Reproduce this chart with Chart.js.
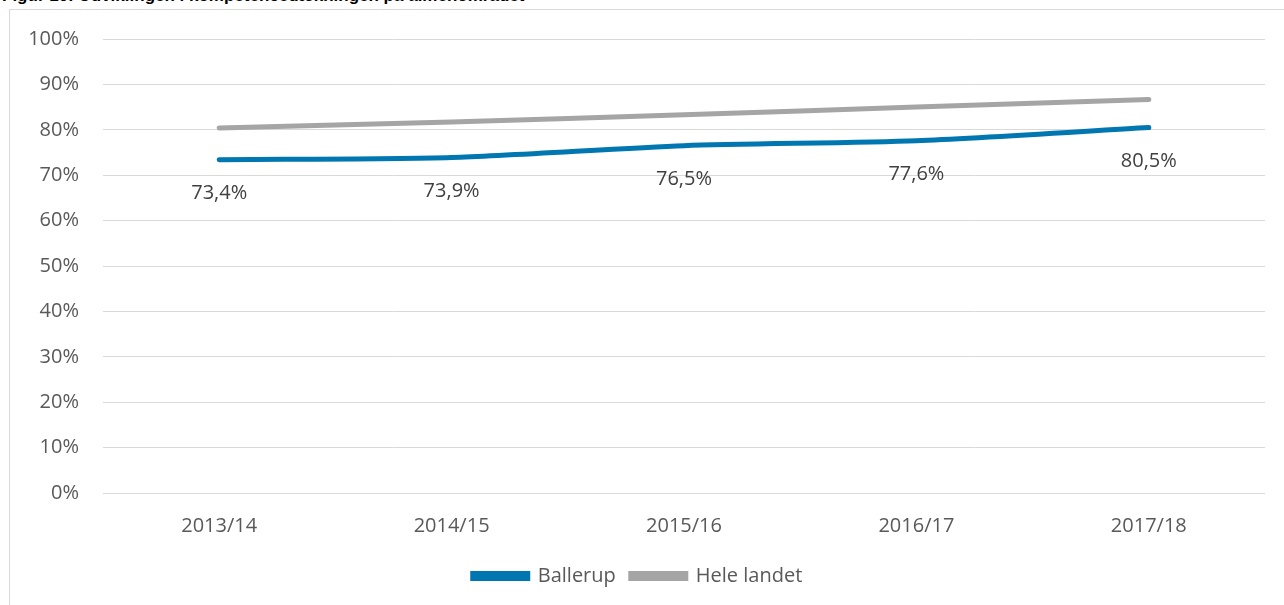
<!DOCTYPE html>
<html>
<head>
<meta charset="utf-8">
<script src="https://cdn.jsdelivr.net/npm/chart.js@4"></script>
<style>
  html, body { margin: 0; padding: 0; background: #fff; overflow: hidden; }
  body { width: 1284px; height: 605px; position: relative; }
  #title {
    position: absolute; left: 2px; top: -14px;
    font: bold 17px "Liberation Sans", Arial, sans-serif; line-height: 20px;
    color: #000; white-space: nowrap;
  }
  #box {
    position: absolute; left: 9px; top: 9px;
    width: 1290px; height: 610px;
    border: 1px solid #d9d9d9; box-sizing: border-box;
  }
  #wrap { position: absolute; left: 0; top: -7px; width: 1275px; height: 594px; }
</style>
</head>
<body>
<div id="title">Figur 10: Udviklingen i kompetencedækningen på almenområdet</div>
<div id="box"><div id="wrap"><canvas id="chart"></canvas></div></div>
<script>
// Skoleår
const years = ['2013/14', '2014/15', '2015/16', '2016/17', '2017/18'];
// Kompetencedækning i procent
const ballerup = [73.4, 73.9, 76.5, 77.6, 80.5];
const heleLandet = [80.4, 81.7, 83.3, 85.0, 86.7];
const yTicks = [0, 10, 20, 30, 40, 50, 60, 70, 80, 90, 100];

const fontFamily = '"Open Sans", "Noto Sans", sans-serif';

// Værdier under Ballerup-linjen
const valueLabels = {
    id: 'valueLabels',
    afterDatasetsDraw(chart) {
        const ctx = chart.ctx;
        const meta = chart.getDatasetMeta(0);
        ctx.save();
        ctx.font = '20px ' + fontFamily;
        ctx.fillStyle = '#404040';
        ctx.textAlign = 'center';
        ctx.textBaseline = 'middle';
        meta.data.forEach((pt, i) => {
            const txt = ballerup[i].toFixed(1).replace('.', ',') + '%';
            ctx.fillText(txt, pt.x, pt.y + 34);
        });
        ctx.restore();
    }
};

const ctx = document.getElementById('chart').getContext('2d');
const chart = new Chart(ctx, {
    type: 'line',
    data: {
        labels: years,
        datasets: [{
            label: 'Ballerup',
            data: ballerup,
            borderColor: '#0077b0',
            backgroundColor: '#0077b0',
            borderWidth: 5,
            borderCapStyle: 'round',
            pointRadius: 0,
            tension: 0.25
        }, {
            label: 'Hele landet',
            data: heleLandet,
            borderColor: '#a5a5a5',
            backgroundColor: '#a5a5a5',
            borderWidth: 5,
            borderCapStyle: 'round',
            pointRadius: 0,
            tension: 0.25
        }]
    },
    options: {
        responsive: true,
        maintainAspectRatio: false,
        animation: false,
        layout: { padding: { left: 0, right: 20, top: 0, bottom: 1 } },
        plugins: {
            tooltip: { enabled: false },
            legend: {
                position: 'bottom',
                labels: {
                    boxWidth: 55,
                    boxHeight: 5,
                    padding: 15,
                    color: '#595959',
                    font: { family: fontFamily, size: 20 }
                }
            }
        },
        scales: {
            x: {
                offset: true,
                grid: { display: false },
                border: { display: false },
                ticks: { color: '#595959', padding: 13, font: { family: fontFamily, size: 20 } }
            },
            y: {
                min: 0,
                max: 100,
                afterBuildTicks: axis => { axis.ticks = yTicks.map(v => ({ value: v })); },
                afterFit: axis => { axis.width = 93; },
                grid: { color: '#d9d9d9', lineWidth: 1, drawTicks: false },
                border: { display: false },
                ticks: {
                    color: '#595959',
                    padding: 24,
                    font: { family: fontFamily, size: 20 },
                    callback: v => v + '%'
                }
            }
        }
    },
    plugins: [valueLabels]
});
</script>
</body>
</html>
